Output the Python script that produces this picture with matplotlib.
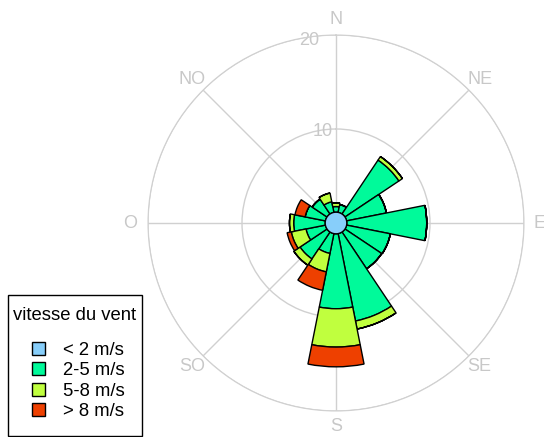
import numpy as np
import matplotlib
matplotlib.use('Agg')
import matplotlib.pyplot as plt
from matplotlib.patches import Patch, Rectangle

plt.rcParams['font.family'] = ['Liberation Sans', 'DejaVu Sans']

# directions (16 sectors, French labels)
directions = ['N', 'NNE', 'NE', 'ENE', 'E', 'ESE', 'SE', 'SSE',
              'S', 'SSO', 'SO', 'OSO', 'O', 'ONO', 'NO', 'NNO']
calme = 1.15  # < 2 m/s, drawn as the central circle

# frequencies (%) per speed class and direction
v_2_5 = [0.6, 0.85, 6.9, 4.32, 8.5, 4.75, 4.7, 9.48,
         7.97, 2.15, 3.45, 2.1, 3.35, 2.2, 1.9, 1.15]
v_5_8 = [0.4, 0.0, 0.45, 0.0, 0.0, 0.0, 0.0, 0.87,
         4.08, 2.0, 0.8, 1.6, 0.45, 0.0, 0.0, 0.95]
v_8 = [0.0, 0.0, 0.0, 0.0, 0.0, 0.0, 0.0, 0.0,
       2.1, 2.0, 0.0, 0.45, 0.0, 1.1, 0.0, 0.0]

classes = ['< 2 m/s', '2-5 m/s', '5-8 m/s', '> 8 m/s']
couleurs = ['#87CEFA', '#00FA9A', '#C0FF3E', '#EE4000']

points_cardinaux = ['N', 'NE', 'E', 'SE', 'S', 'SO', 'O', 'NO']
cercles = [10, 20]

theta = np.deg2rad(np.arange(16) * 22.5)
largeur = 2 * np.pi / 16

W, H = 544, 437
fig = plt.figure(figsize=(W / 100, H / 100), dpi=100)
ax = fig.add_axes([148 / W, 26 / H, 376 / W, 376 / H], projection='polar')
ax.set_theta_zero_location('N')
ax.set_theta_direction(-1)

bas = np.full(16, calme)
for vals, c in zip([v_2_5, v_5_8, v_8], couleurs[1:]):
    vals = np.array(vals)
    ax.bar(theta, vals, width=largeur, bottom=bas, color=c,
           edgecolor='black', linewidth=1, zorder=3)
    bas = bas + vals

t = np.linspace(0, 2 * np.pi, 200)
ax.fill(t, np.full_like(t, calme), facecolor=couleurs[0], edgecolor='black',
        linewidth=1, zorder=4)

gris = '#d0d0d0'
gris_txt = '#c8c8c8'
ax.set_ylim(0, 20)
ax.set_yticks(cercles)
ax.set_yticklabels([])
ax.set_xticks(np.deg2rad(np.arange(0, 360, 45)))
ax.set_xticklabels([])
ax.grid(True, color=gris, linewidth=1)
ax.spines['polar'].set_color(gris)
ax.set_axisbelow(True)

# direction labels just outside the outer ring
for ang, lab in zip(np.arange(0, 360, 45), points_cardinaux):
    r_lab = 21.9 if lab == 'O' else 21.6
    ax.text(np.deg2rad(ang), r_lab, lab, ha='center', va='center',
            color=gris_txt, fontsize=13, clip_on=False)
# ring labels
for r in cercles:
    ax.text(np.deg2rad(-8.3), r * 0.98, str(r), ha='center', va='center',
            color=gris_txt, fontsize=13, zorder=2)

# legend: box + title + entries
fig.patches.append(Rectangle((8 / W, 1 / H), 134 / W, 141 / H, transform=fig.transFigure,
                             fill=False, edgecolor='black', linewidth=1))
fig.text(75 / W, 1 - 316 / H, 'vitesse du vent', ha='center', va='center', fontsize=13.3)
handles = [Patch(facecolor=c, edgecolor='black', linewidth=1) for c in couleurs]
leg = fig.legend(handles, classes, loc='upper left', bbox_to_anchor=(32 / W, 1 - 342 / H),
                 fontsize=13.3, frameon=False, borderaxespad=0, borderpad=0,
                 handlelength=0.7, handleheight=0.7, handletextpad=1.0,
                 labelspacing=0.18)

fig.savefig('out.png', dpi=100)
